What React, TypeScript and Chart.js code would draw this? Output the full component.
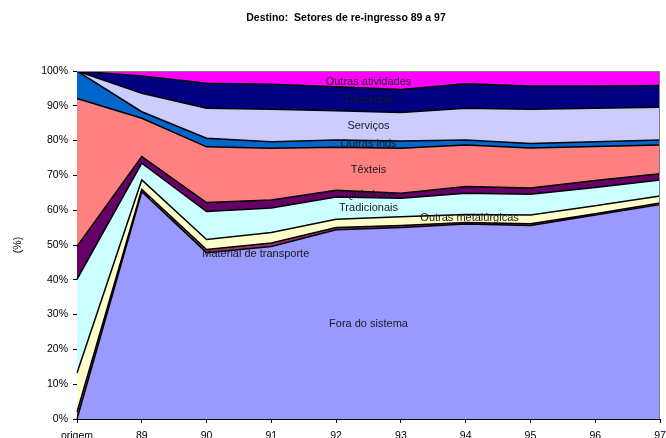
import React, { useEffect, useRef } from "react";
import { Chart, registerables } from "chart.js";

Chart.register(...registerables);

const categories = ["origem", "89", "90", "91", "92", "93", "94", "95", "96", "97"];

const foraDoSistema = [0, 65.3, 47.8, 49.6, 54.4, 55.0, 56.0, 55.6, 58.6, 61.6];
const materialTransporte = [2.0, 0.7, 0.9, 1.0, 0.6, 0.6, 0.5, 0.5, 0.4, 0.5];
const outrasMetalurgicas = [11.2, 2.7, 2.9, 3.0, 2.4, 2.5, 2.3, 2.5, 2.3, 2.0];
const tradicionais = [26.9, 4.8, 8.0, 7.0, 6.4, 5.3, 6.1, 6.0, 5.2, 4.6];
const quimicas = [9.5, 1.9, 2.6, 2.3, 1.9, 1.5, 1.9, 1.8, 2.0, 1.8];
const texteis = [42.5, 11.0, 16.0, 14.9, 12.4, 12.9, 11.9, 11.5, 9.8, 8.2];
const outrasInds = [7.9, 1.9, 2.5, 1.9, 2.1, 2.1, 1.5, 1.3, 1.4, 1.5];
const servicos = [0, 5.3, 8.6, 9.3, 8.4, 8.2, 9.1, 9.8, 9.6, 9.4];
const comercio = [0, 5.0, 7.2, 7.2, 6.9, 6.6, 7.0, 6.7, 6.4, 6.2];
const outrasAtividades = [0, 1.4, 3.5, 3.8, 4.5, 5.3, 3.7, 4.3, 4.3, 4.2];

const seriesNames = [
  "Fora do sistema",
  "Material de transporte",
  "Outras metalúrgicas",
  "Tradicionais",
  "Químicas",
  "Têxteis",
  "Outras inds",
  "Serviços",
  "Comércio",
  "Outras atividades",
];
const seriesValues = [
  foraDoSistema,
  materialTransporte,
  outrasMetalurgicas,
  tradicionais,
  quimicas,
  texteis,
  outrasInds,
  servicos,
  comercio,
  outrasAtividades,
];
const seriesColors = [
  "#9999FF",
  "#993366",
  "#FFFFCC",
  "#CCFFFF",
  "#660066",
  "#FF8080",
  "#0066CC",
  "#CCCCFF",
  "#000080",
  "#FF00FF",
];
// label anchor: category index (fractional) and pixel shift
const labelIndex = [4.5, 2.76, 6.06, 4.5, 4.5, 4.5, 4.5, 4.5, 4.5, 4.5];
const labelShift = [0, 8, 0, 0, 0, 0, 0, 0, 0, 2];

const titleText = "Destino:  Setores de re-ingresso 89 a 97";
const yAxisTitle = "(%)";
const FONT = "'Liberation Sans', Arial, sans-serif";

const labelsPlugin = {
  id: "bandLabels",
  afterDatasetsDraw(chart: any) {
    const ctx = chart.ctx;
    const xs = chart.scales.x;
    const ys = chart.scales.y;
    ctx.save();
    ctx.font = `11px ${FONT}`;
    ctx.fillStyle = "#1a1a1a";
    ctx.textAlign = "center";
    ctx.textBaseline = "middle";
    const n = categories.length;
    const cum = (s: number, idx: number) => {
      let t = 0;
      for (let k = 0; k <= s; k++) t += seriesValues[k][idx];
      return t;
    };
    for (let s = 0; s < seriesNames.length; s++) {
      const fi = labelIndex[s];
      const i0 = Math.max(0, Math.min(n - 2, Math.floor(fi)));
      const f = fi - i0;
      const top = cum(s, i0) * (1 - f) + cum(s, i0 + 1) * f;
      const bot = s === 0 ? 0 : cum(s - 1, i0) * (1 - f) + cum(s - 1, i0 + 1) * f;
      const x = xs.getPixelForValue(fi);
      const y = ys.getPixelForValue((top + bot) / 2) + labelShift[s];
      ctx.fillText(seriesNames[s], x, y);
    }
    ctx.restore();
  },
};

const decorPlugin = {
  id: "decor",
  afterDraw(chart: any) {
    const ctx = chart.ctx;
    const a = chart.chartArea;
    ctx.save();
    // plot area border (top and right)
    ctx.strokeStyle = "#808080";
    ctx.lineWidth = 1;
    ctx.beginPath();
    ctx.moveTo(a.left, a.top + 0.5);
    ctx.lineTo(a.right - 0.5, a.top + 0.5);
    ctx.lineTo(a.right - 0.5, a.bottom);
    ctx.stroke();
    // title
    ctx.fillStyle = "#000";
    ctx.font = `bold 10.5px ${FONT}`;
    ctx.textAlign = "center";
    ctx.textBaseline = "middle";
    ctx.fillText(titleText, 346, 18);
    // y axis title
    ctx.font = `10.5px ${FONT}`;
    ctx.translate(18, (a.top + a.bottom) / 2);
    ctx.rotate(-Math.PI / 2);
    ctx.fillText(yAxisTitle, 0, 0);
    ctx.restore();
  },
};

export default function App() {
  const ref = useRef<HTMLCanvasElement | null>(null);
  useEffect(() => {
    document.body.style.margin = "0";
    if (!ref.current) return;
    const datasets = seriesNames.map((name, i) => ({
      label: name,
      data: seriesValues[i],
      backgroundColor: seriesColors[i],
      borderColor: "#000000",
      borderWidth: 1.5,
      pointRadius: 0,
      tension: 0,
      fill: i === 0 ? "origin" : "-1",
    }));
    const chart = new Chart(ref.current, {
      type: "line",
      data: { labels: categories, datasets },
      options: {
        animation: false,
        responsive: false,
        maintainAspectRatio: false,
        layout: { padding: { left: 0, right: 6, top: 71, bottom: 0 } },
        plugins: {
          legend: { display: false },
          tooltip: { enabled: false },
          title: { display: false },
        },
        scales: {
          x: {
            type: "category",
            offset: false,
            grid: {
              display: true,
              drawOnChartArea: false,
              drawTicks: true,
              tickLength: 4,
              color: "#000",
            },
            border: { display: true, color: "#000", width: 1 },
            ticks: {
              color: "#000",
              font: { family: FONT, size: 10.5 },
              padding: 7,
              maxRotation: 0,
              autoSkip: false,
            },
            afterFit: (scale: any) => {
              scale.height = 19;
              scale.paddingLeft = 0;
              scale.paddingRight = 0;
            },
          },
          y: {
            stacked: true,
            min: 0,
            max: 100,
            grid: {
              display: true,
              drawOnChartArea: false,
              drawTicks: true,
              tickLength: 4,
              color: "#000",
            },
            border: { display: true, color: "#000", width: 1 },
            ticks: {
              stepSize: 10,
              color: "#000",
              font: { family: FONT, size: 10.5 },
              padding: 5,
              callback: (v: any) => `${v}%`,
            },
            afterFit: (scale: any) => {
              scale.width = 77;
              scale.paddingTop = 0;
              scale.paddingBottom = 0;
            },
          },
        },
      },
      plugins: [labelsPlugin, decorPlugin],
    } as any);
    return () => chart.destroy();
  }, []);
  return (
    <div style={{ width: 666, height: 438, background: "#fff" }}>
      <canvas ref={ref} width={666} height={438} style={{ display: "block" }} />
    </div>
  );
}
